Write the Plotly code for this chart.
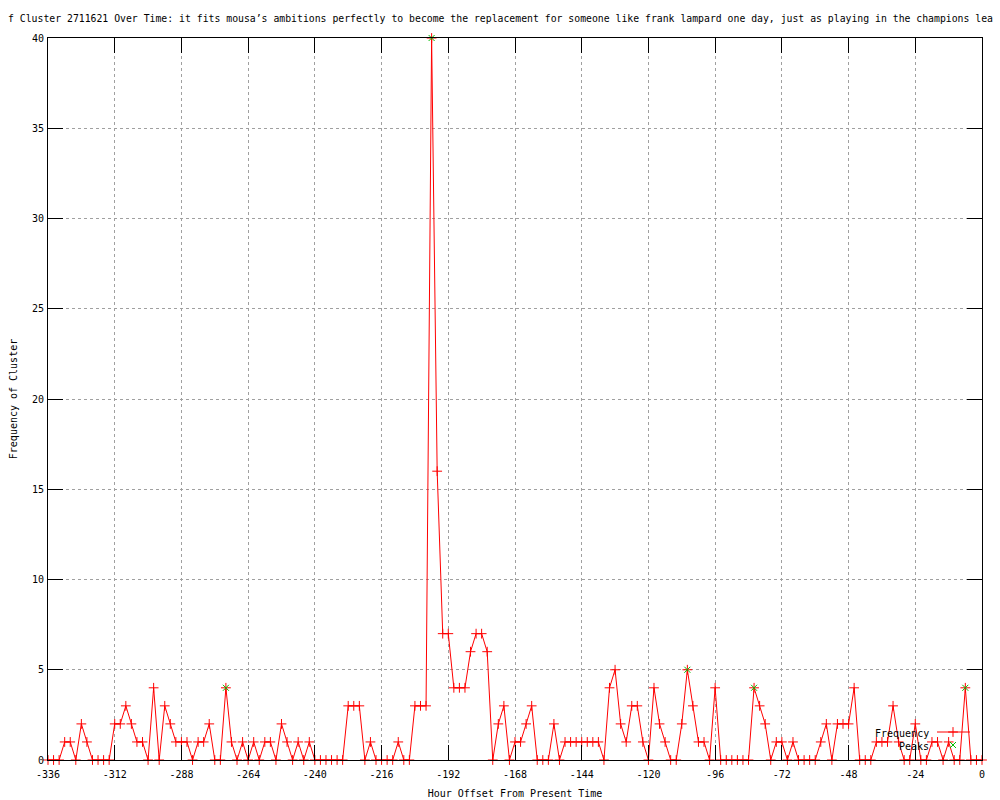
import plotly.graph_objects as go

# ---- data ----
hours = list(range(-336, 1, 2))
frequency = [
    0, 0, 0, 1, 1, 0, 2, 1, 0, 0, 0, 0, 2, 2, 3, 2, 1, 1, 0, 4,
    0, 3, 2, 1, 1, 1, 0, 1, 1, 2, 0, 0, 4, 1, 0, 1, 0, 1, 0, 1,
    1, 0, 2, 1, 0, 1, 0, 1, 0, 0, 0, 0, 0, 0, 3, 3, 3, 0, 1, 0,
    0, 0, 0, 1, 0, 0, 3, 3, 3, 40, 16, 7, 7, 4, 4, 4, 6, 7, 7, 6,
    0, 2, 3, 0, 1, 1, 2, 3, 0, 0, 0, 2, 0, 1, 1, 1, 1, 1, 1, 1,
    0, 4, 5, 2, 1, 3, 3, 1, 0, 4, 2, 1, 0, 0, 2, 5, 3, 1, 1, 0,
    4, 0, 0, 0, 0, 0, 0, 4, 3, 2, 0, 1, 1, 0, 1, 0, 0, 0, 0, 1,
    2, 0, 2, 2, 2, 4, 0, 0, 0, 1, 1, 1, 3, 1, 0, 0, 2, 0, 0, 1,
    1, 0, 1, 0, 0, 4, 0, 0, 0,
]
peak_hours = [-272, -198, -106, -82, -6]
peak_values = [frequency[hours.index(h)] for h in peak_hours]

x_ticks = list(range(-336, 1, 24))
y_ticks = [0, 5, 10, 15, 20, 25, 30, 35, 40]

title_text = ("f Cluster 2711621 Over Time: it fits mousa\u2019s ambitions perfectly to become "
              "the replacement for someone like frank lampard one day, just as playing in the champions lea")

# ---- styling ----
W, H = 1000, 800
L, R, T, B = 48, 18, 38, 40
FONT = "DejaVu Sans Mono, Liberation Mono, monospace"
RED = "#ff0000"
GREEN = "#00c000"
GRID = "#a0a0a0"

fig = go.Figure()
fig.add_trace(go.Scatter(
    x=hours, y=frequency, mode="lines+markers", name="Frequency",
    line=dict(color=RED, width=1), cliponaxis=False,
    marker=dict(symbol="cross-thin", size=7, line=dict(color=RED, width=1), color=RED),
    showlegend=False,
))
fig.add_trace(go.Scatter(
    x=peak_hours, y=peak_values, mode="markers", name="Peaks", cliponaxis=False,
    marker=dict(symbol="x-thin", size=6, line=dict(color=GREEN, width=1), color=GREEN),
    showlegend=False,
))

# legend samples drawn on a pixel-mapped overlay axis (gnuplot style key: text then sample)
fig.add_trace(go.Scatter(
    x=[937, 970], y=[732, 732], mode="lines", line=dict(color=RED, width=1),
    xaxis="x2", yaxis="y2", showlegend=False, hoverinfo="skip",
))
fig.add_trace(go.Scatter(
    x=[953], y=[732], mode="markers", xaxis="x2", yaxis="y2",
    marker=dict(symbol="cross-thin", size=7, line=dict(color=RED, width=1), color=RED),
    showlegend=False, hoverinfo="skip",
))
fig.add_trace(go.Scatter(
    x=[953], y=[745], mode="markers", xaxis="x2", yaxis="y2",
    marker=dict(symbol="x-thin", size=6, line=dict(color=GREEN, width=1), color=GREEN),
    showlegend=False, hoverinfo="skip",
))

axis_common = dict(
    showline=True, linecolor="black", linewidth=1, mirror="ticks",
    ticks="inside", ticklen=15, tickcolor="black", tickwidth=1,
    showgrid=True, gridcolor=GRID, gridwidth=1, griddash="dot",
    zeroline=False, tickfont=dict(family=FONT, size=10, color="black"),
)

fig.update_layout(
    width=W, height=H,
    margin=dict(l=L, r=R, t=T, b=B, autoexpand=False),
    paper_bgcolor="white", plot_bgcolor="white",
    font=dict(family=FONT, size=10, color="black"),
    xaxis=dict(range=[-336, 0], tickvals=x_ticks, ticktext=[str(v) for v in x_ticks],
               ticklabelstandoff=5,
               title=dict(text="Hour Offset From Present Time", standoff=10,
                          font=dict(family=FONT, size=10)),
               **axis_common),
    yaxis=dict(range=[0, 40], tickvals=y_ticks, ticktext=[str(v) for v in y_ticks],
               ticklabelstandoff=1,
               title=dict(text="Frequency of Cluster", standoff=12,
                          font=dict(family=FONT, size=10)),
               **axis_common),
    xaxis2=dict(range=[L, W - R], overlaying="x", visible=False, fixedrange=True),
    yaxis2=dict(range=[H - B, T], overlaying="y", visible=False, fixedrange=True),
    showlegend=False,
)

def px_x(p):
    return (p - L) / (W - L - R)

def px_y(p):
    return (H - B - p) / (H - T - B)

fig.add_annotation(text=title_text, xref="paper", yref="paper",
                   x=px_x(500), y=px_y(18), xanchor="center", yanchor="middle",
                   showarrow=False, font=dict(family=FONT, size=9.8, color="black"))
fig.add_annotation(text="Frequency", xref="paper", yref="paper",
                   x=px_x(931), y=px_y(733), xanchor="right", yanchor="middle",
                   showarrow=False, font=dict(family=FONT, size=10, color="black"))
fig.add_annotation(text="Peaks", xref="paper", yref="paper",
                   x=px_x(931), y=px_y(746), xanchor="right", yanchor="middle",
                   showarrow=False, font=dict(family=FONT, size=10, color="black"))

fig.write_html("out.html", config={"displayModeBar": False},
               post_script="document.body.style.margin='0px';document.body.style.overflow='hidden';")
